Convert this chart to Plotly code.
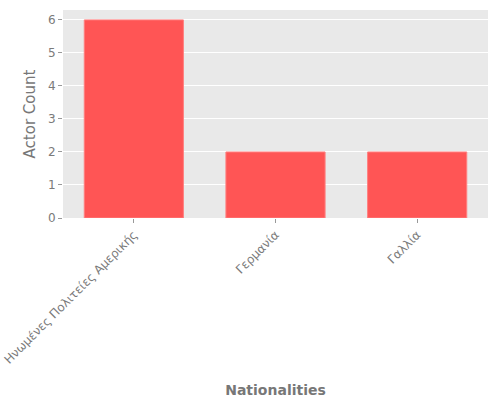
import plotly.graph_objects as go

categories = ["Ηνωμένες Πολιτείες Αμερικής", "Γερμανία", "Γαλλία"]
counts = [6, 2, 2]

fig = go.Figure(go.Bar(
    x=categories, y=counts, width=0.7,
    marker=dict(color="#ff5555", line=dict(color="#ff8080", width=1)),
))

font_family = "DejaVu Sans"
fig.update_layout(
    width=500, height=400,
    margin=dict(l=63, r=12, t=10, b=182),
    paper_bgcolor="white", plot_bgcolor="#e9e9e9",
    font=dict(family=font_family, color="#777777", size=12),
    showlegend=False,
    bargap=0.3,
)
fig.update_xaxes(
    range=[-0.5, 2.5], tickangle=-45, showgrid=False, zeroline=False,
    ticks="outside", ticklen=4, tickcolor="#999999", automargin=False,
    tickfont=dict(size=12, color="#7a7a7a"),
    title=dict(text="<b>Nationalities</b>", font=dict(size=14, color="#777777"), standoff=19),
    showline=False,
)
fig.update_yaxes(
    range=[0, 6.3], dtick=1, showgrid=True, gridcolor="white", gridwidth=1,
    zeroline=False, ticks="outside", ticklen=4, tickcolor="#999999", automargin=False,
    tickfont=dict(size=12, color="#7a7a7a"),
    title=dict(text="Actor Count", font=dict(size=15, color="#777777"), standoff=8),
    showline=False,
)

fig.write_html("out.html")
